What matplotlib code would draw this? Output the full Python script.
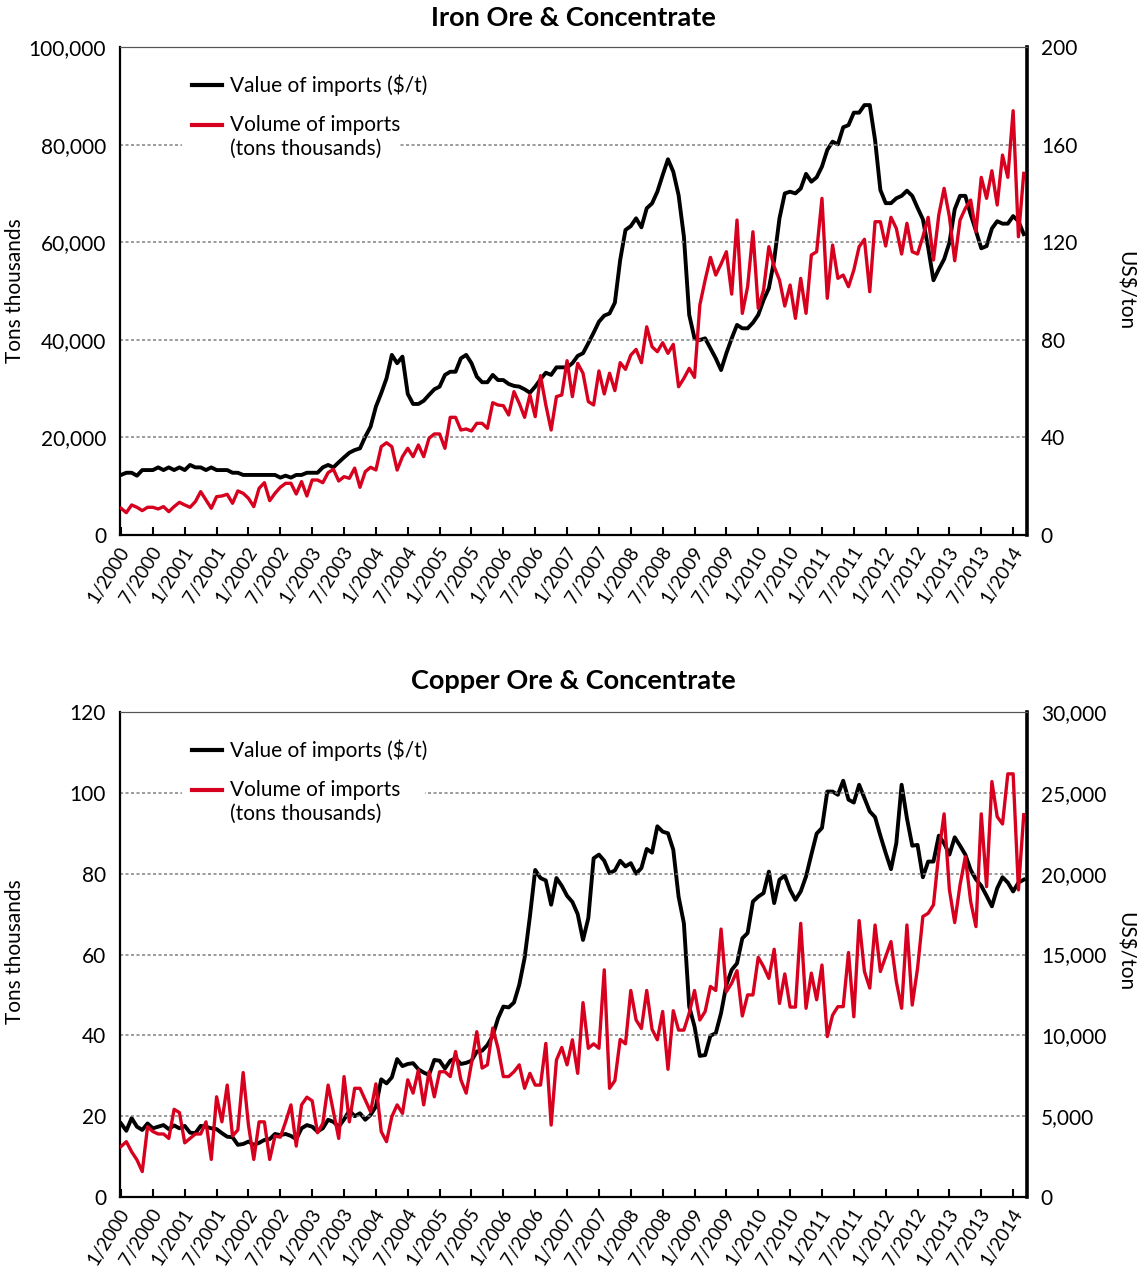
import numpy as np
import matplotlib
matplotlib.use("Agg")
import matplotlib.pyplot as plt
from matplotlib.ticker import FuncFormatter, FixedLocator
from matplotlib.patches import Rectangle

plt.rcParams['font.family'] = ['Lato', 'DejaVu Sans']

# monthly series, 1/2000 .. 3/2014
iron_price = [  # US$/ton (right axis)
    24.6, 25.5, 25.5, 24.3, 26.6, 26.6, 26.6, 27.7, 26.6, 27.7, 26.6, 27.7, 26.6, 28.7, 27.7,
    27.7, 26.6, 27.7, 26.6, 26.6, 26.6, 25.5, 25.5, 24.6, 24.6, 24.6, 24.6, 24.6, 24.6, 24.6,
    23.5, 24.3, 23.5, 24.6, 24.6, 25.5, 25.5, 25.5, 27.7, 28.7, 27.7, 29.8, 31.8, 33.7, 34.8,
    35.5, 40.3, 44.4, 52.6, 58.1, 64.2, 73.8, 70.4, 73.1, 57.8, 53.7, 53.7, 55.0, 57.4, 59.7,
    60.8, 65.6, 66.9, 66.9, 72.4, 73.8, 70.4, 64.9, 62.6, 62.6, 65.6, 63.5, 63.5, 61.9, 61.1,
    60.8, 59.7, 58.3, 60.8, 63.8, 66.5, 65.6, 68.7, 68.7, 68.7, 70.4, 73.4,
    74.5, 78.6, 82.9, 87.4, 89.9, 90.8, 95.2, 112.7, 125.0, 126.6, 129.8, 126.1, 133.9, 135.9,
    140.7, 147.5, 154.0, 148.9, 139.3, 122.3, 90.2, 80.6, 79.9, 80.6, 76.5, 72.4, 67.6, 74.5,
    80.6, 86.1, 84.7, 84.7, 87.0, 90.2, 96.3, 101.1, 112.7, 129.8, 140.0, 140.7, 140.0, 142.0,
    148.0, 144.8, 146.6, 151.0, 157.8, 161.2, 160.1, 167.1, 168.0, 173.1, 173.1, 176.2, 176.2,
    161.9, 141.4, 136.0, 136.0, 138.0, 139.0, 141.1, 139.0, 134.1, 129.4, 117.8, 104.4, 108.9,
    113.0, 119.8, 133.5, 139.0, 139.0, 131.4, 124.6, 117.5, 118.4, 125.6, 128.6, 127.6, 127.6,
    130.7, 128.6, 123.3,
]
iron_volume = [  # tons thousands (left axis)
    5470, 4570, 6150, 5670, 4990, 5670, 5670, 5330, 5810, 4780, 5810, 6690, 6150, 5670, 6830,
    8880, 7170, 5470, 7850, 7990, 8330, 6490, 9020, 8540, 7510, 5810, 9560, 10720, 7030, 8540,
    9770, 10590, 10590, 8400, 10930, 7990, 11270, 11270, 10720, 12770, 13450, 11060, 11950,
    11610, 13700,
    9770, 12980, 13870, 13320, 18100, 18900, 18100, 13300, 16050, 17760, 16050, 18440, 16050,
    19810, 20700, 20700, 17760, 24110, 24110, 21510, 21720, 21310, 22880, 22880, 21850, 27110,
    26630, 26500, 24590, 29370, 26970, 24110, 28690, 24250, 32650, 26630, 21510, 28350, 28690,
    35720, 28350, 35170,
    33150, 27340, 26640, 33610, 28900, 33150, 29580, 35310, 33940, 36870, 38030, 35310, 42660,
    38580, 37560, 39400, 37220, 39060, 30380, 32100, 34150, 32300, 47120, 52240, 56890, 53270,
    55530, 58050, 49360, 64530, 45410, 50870, 62140, 46440, 50190, 59080, 54980, 52240, 46920,
    51220, 44390, 52590,
    45420, 57370, 58050, 68990, 48500, 59420, 52590, 53270, 50880, 54300, 59070, 60590, 49850,
    64200, 64200, 59220, 65100, 62840, 57580, 63870, 58050, 57580, 61120, 65100, 56350, 65570,
    71040, 65220, 56200, 64540, 66940, 68640, 62150, 73290, 68990, 74640, 67620, 77860, 73290,
    86940, 61120, 74110,
]
copper_price = [  # US$/ton (right axis)
    4550, 4100, 4880, 4350, 4150, 4550, 4250, 4350, 4450, 4200, 4430, 4250, 4400, 3980, 3950,
    4400, 4350, 4250, 4200, 3950, 3730, 3700, 3230, 3280, 3430, 3230, 3350, 3530, 3580, 3900,
    3830, 3900, 3780, 3580, 4250, 4450, 4350, 4050, 4250, 4780, 4650, 4350, 4800, 5350, 5000,
    5180, 4780, 5080, 5600, 7280, 7030, 7400, 8530, 8100, 8230, 8280, 7900, 7700, 7550, 8480,
    8430, 7950, 8430, 8580, 8230, 8300, 8430, 9000, 9050, 9400, 9980, 11050, 11780, 11730,
    12030, 13130,
    14780, 17350, 20230, 19730, 19580, 18080, 19730, 19250, 18630, 18250, 17500,
    15900, 17250, 20950, 21180, 20800, 20030, 20200, 20800, 20450, 20650, 20000, 20350, 21530,
    21300, 22930, 22600, 22500, 21480, 18580, 16930, 11780, 10550, 8730, 8780, 9980, 10130,
    11380, 13130, 14050, 14450, 16000, 16330, 18280, 18580, 18800, 20130, 18180, 19630, 19880,
    19000, 18380, 18900,
    19830, 21180, 22480, 22830, 25080, 25080, 24880, 25750, 24580, 24400, 25500, 24680, 23850,
    23500, 22350, 21280, 20280, 21880, 25500, 23430, 21730, 21780, 19780, 20750, 20750, 22350,
    21880, 21180, 22250, 21730, 21180, 20230, 19650, 19250, 18630, 17980, 19100, 19780, 19450,
    18900, 19450, 19630,
]
copper_volume = [  # tons thousands (left axis)
    12.5, 13.7, 11.2, 9.2, 6.3, 17.4, 16.2, 15.6, 15.6, 14.5, 21.7, 20.9, 13.4, 14.5, 15.6,
    15.6, 18.6, 9.3, 24.8, 18.6, 27.7, 15.1, 16.6, 30.8, 17.8, 9.3, 18.6, 18.6, 9.3, 15.1,
    14.8, 18.6, 22.8, 12.6, 22.8, 24.7, 23.8, 15.9, 18.2, 27.7, 21.1, 14.5, 29.8, 18.6, 26.9,
    26.9, 24.0, 21.1, 28.0, 16.2, 13.7, 19.9, 22.8, 20.7, 29.0, 25.7, 31.4, 22.8, 31.0, 24.8,
    31.0, 31.0, 29.8, 36.0, 29.0, 25.7, 33.1, 40.9, 31.9, 32.7, 41.8, 36.8, 29.8, 29.8, 31.0,
    32.7, 26.9, 30.6, 27.7, 27.7, 38.0, 17.8, 33.9, 37.0, 32.7, 38.9, 30.6,
    48.1, 36.8, 37.9, 36.8, 56.2, 26.9, 28.8, 39.0, 37.9, 51.1, 43.8, 41.7, 51.1, 41.5, 38.9,
    45.9, 31.6, 46.1, 41.3, 41.3, 45.5, 51.1, 43.8, 45.9, 52.1, 51.1, 66.3, 50.8, 52.9, 56.0,
    44.8, 50.0, 50.0, 59.3, 57.0, 54.1, 61.3, 47.9, 55.2, 47.0, 47.0, 67.7,
    46.7, 55.4, 48.8, 57.4, 39.7, 45.0, 47.1, 47.1, 60.5, 44.6, 68.4, 55.8, 51.7, 67.3, 55.8,
    59.5, 63.2, 53.3, 46.7, 67.3, 47.5, 56.6, 69.4, 70.2, 72.3, 85.1, 94.8, 76.0, 67.9, 77.2,
    84.2, 73.1, 66.9, 94.8, 76.8, 102.8, 94.1, 92.3, 104.7, 104.7, 76.0, 94.6,
]
tick_labels = ['1/2000', '7/2000', '1/2001', '7/2001', '1/2002', '7/2002', '1/2003', '7/2003',
               '1/2004', '7/2004', '1/2005', '7/2005', '1/2006', '7/2006', '1/2007', '7/2007',
               '1/2008', '7/2008', '1/2009', '7/2009', '1/2010', '7/2010', '1/2011', '7/2011',
               '1/2012', '7/2012', '1/2013', '7/2013', '1/2014']

RED = '#d7001e'
FS = 15

fig = plt.figure(figsize=(11.37, 12.71), dpi=100)


def panel(rect, title, title_y, vol, price, left_max, left_step, right_max, right_step,
          ylab_y, box_w):
    ax = fig.add_axes(rect)
    ax2 = ax.twinx()
    ax.set_zorder(ax2.get_zorder() + 1)
    ax.patch.set_visible(False)

    x = np.arange(len(vol))
    ax2.plot(x, price, color='black', lw=2.8, solid_joinstyle='round', zorder=3)
    ax.plot(x, vol, color=RED, lw=2.4, solid_joinstyle='round', zorder=3)

    ax.set_xlim(-0.2, 170.6)
    ax.set_ylim(0, left_max)
    ax2.set_ylim(0, right_max)
    ax.set_yticks(np.arange(0, left_max + 1, left_step))
    ax2.set_yticks(np.arange(0, right_max + 1, right_step))
    ax.yaxis.set_major_formatter(FuncFormatter(lambda v, p: f"{v:,.0f}"))
    ax2.yaxis.set_major_formatter(FuncFormatter(lambda v, p: f"{v:,.0f}"))
    ax.tick_params(axis='y', length=0, pad=10, labelsize=FS)
    ax2.tick_params(axis='y', length=0, pad=10, labelsize=FS)

    ticks = np.arange(0, 169, 6)
    ax.xaxis.set_major_locator(FixedLocator(ticks))
    ax.set_xticklabels(tick_labels, rotation=58, ha='right', va='top', fontsize=13.5)
    ax.tick_params(axis='x', direction='in', length=6, width=1.5, pad=6)
    for lbl in ax.get_xticklabels():
        lbl.set_transform(lbl.get_transform() +
                          matplotlib.transforms.ScaledTranslation(12 / 100, 0, fig.dpi_scale_trans))

    # dotted gridlines
    for v in np.arange(left_step, left_max, left_step):
        ax.axhline(v, color='#808080', lw=1.1, ls=(0, (2, 1.6)), zorder=1)

    for a in (ax, ax2):
        a.spines['top'].set_color('#555555')
        a.spines['top'].set_linewidth(0.8)
    ax.spines['left'].set_linewidth(1.6)
    ax.spines['bottom'].set_linewidth(1.6)
    ax2.spines['right'].set_linewidth(2.6)
    ax2.spines['left'].set_visible(False)
    ax2.spines['bottom'].set_visible(False)
    ax.spines['right'].set_visible(False)

    # legend block with white background
    ax.add_patch(Rectangle((0.068, 0.762), box_w, 0.186, transform=ax.transAxes,
                           facecolor='white', edgecolor='none', zorder=2))
    ax.plot([0.0794, 0.1125], [0.922, 0.922], color='black', lw=3, transform=ax.transAxes, zorder=4)
    ax.plot([0.0794, 0.1125], [0.840, 0.840], color=RED, lw=3, transform=ax.transAxes, zorder=4)
    ax.text(0.1213, 0.922, 'Value of imports ($/t)', transform=ax.transAxes,
            fontsize=FS, va='center', ha='left', zorder=4)
    ax.text(0.1213, 0.840, 'Volume of imports', transform=ax.transAxes,
            fontsize=FS, va='center', ha='left', zorder=4)
    ax.text(0.1213, 0.791, '(tons thousands)', transform=ax.transAxes,
            fontsize=FS, va='center', ha='left', zorder=4)

    fig.text(0.5044, title_y, title, fontsize=19.5, fontweight='bold', ha='center', va='center')
    fig.text(0.0132, ylab_y, 'Tons thousands', fontsize=FS, rotation=90, ha='center', va='center')
    fig.text(0.9894, ylab_y, 'US$/ton', fontsize=FS, rotation=270, ha='center', va='center')
    return ax


panel([0.1055, 0.5791, 0.7977, 0.3839], 'Iron Ore & Concentrate', 0.9858,
      iron_volume, iron_price, 100000, 20000, 200, 40, 0.771, 0.241)
panel([0.1055, 0.0582, 0.7977, 0.3816], 'Copper Ore & Concentrate', 0.4642,
      copper_volume, copper_price, 120, 20, 30000, 5000, 0.251, 0.268)

fig.savefig('out.png', dpi=100)
